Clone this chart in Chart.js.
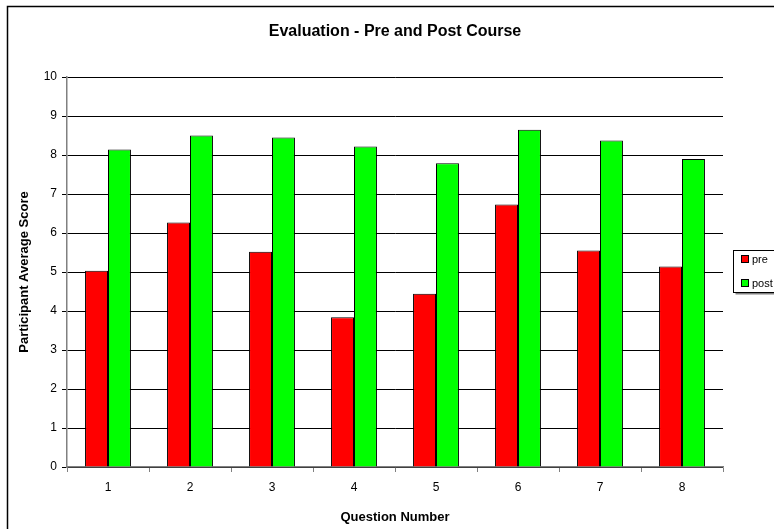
<!DOCTYPE html>
<html>
<head>
<meta charset="utf-8">
<script src="https://cdn.jsdelivr.net/npm/chart.js@4.4.0/dist/chart.umd.min.js"></script>
<style>
  html, body { margin: 0; padding: 0; background: #fff; overflow: hidden; }
  canvas { display: block; }
</style>
</head>
<body>
<canvas id="eval-chart" width="774" height="529"></canvas>
<script>
const chartTitle = 'Evaluation - Pre and Post Course';
const questions = ['1', '2', '3', '4', '5', '6', '7', '8'];
const preScores = [5.03, 6.27, 5.52, 3.84, 4.44, 6.73, 5.55, 5.14];
const postScores = [8.14, 8.50, 8.45, 8.22, 7.79, 8.65, 8.37, 7.90];
const seriesNames = ['pre', 'post'];

const font = 'Arial, "Liberation Sans", sans-serif';

// outer frame, title over the plot area, legend box - Excel style
const framePlugin = {
    id: 'frame',
    afterDraw(chart) {
        const ctx = chart.ctx;
        const area = chart.chartArea;
        ctx.save();
        ctx.strokeStyle = '#000';
        ctx.lineWidth = 1.5;
        ctx.strokeRect(7.5, 6.5, chart.width + 20, chart.height + 20);

        ctx.fillStyle = '#000';
        ctx.font = 'bold 16px ' + font;
        ctx.textAlign = 'center';
        ctx.textBaseline = 'middle';
        ctx.fillText(chartTitle, (area.left + area.right) / 2, 32);

        // legend
        const lx = 733.5, ly = 250.5, lw = 60, lh = 42;
        ctx.fillStyle = '#808080';
        ctx.fillRect(lx + 2, ly + 2, lw, lh);
        ctx.fillStyle = '#fff';
        ctx.fillRect(lx, ly, lw, lh);
        ctx.lineWidth = 1;
        ctx.strokeStyle = '#000';
        ctx.strokeRect(lx, ly, lw, lh);

        ctx.font = '11px ' + font;
        ctx.textAlign = 'left';
        chart.data.datasets.forEach((ds, i) => {
            const y = 259 + i * 24;
            ctx.fillStyle = ds.backgroundColor;
            ctx.fillRect(741.5, y - 3.5, 7, 7);
            ctx.strokeRect(741.5, y - 3.5, 7, 7);
            ctx.fillStyle = '#000';
            ctx.fillText(ds.label, 752, y + 0.5);
        });
        ctx.restore();
    }
};

const ctx = document.getElementById('eval-chart').getContext('2d');

new Chart(ctx, {
    type: 'bar',
    data: {
        labels: questions,
        datasets: [{
            label: seriesNames[0],
            data: preScores,
            backgroundColor: '#ff0000',
            borderColor: '#000',
            borderWidth: 1
        }, {
            label: seriesNames[1],
            data: postScores,
            backgroundColor: '#00ff00',
            borderColor: '#000',
            borderWidth: 1
        }]
    },
    options: {
        responsive: false,
        animation: false,
        categoryPercentage: 0.56,
        barPercentage: 1,
        layout: {
            padding: { left: 0, right: 51, top: 77, bottom: 0 }
        },
        scales: {
            x: {
                grid: {
                    drawOnChartArea: false,
                    color: '#808080',
                    tickLength: 5
                },
                border: { color: '#808080', width: 1.5 },
                ticks: {
                    color: '#000',
                    font: { family: font, size: 12 },
                    padding: 8
                },
                title: {
                    display: true,
                    text: 'Question Number',
                    color: '#000',
                    font: { family: font, size: 13, weight: 'bold' },
                    padding: { top: 0, bottom: 4 }
                },
                afterFit: scale => { scale.height = 62; }
            },
            y: {
                min: 0,
                max: 10,
                ticks: {
                    stepSize: 1,
                    color: '#000',
                    font: { family: font, size: 12 },
                    padding: 5
                },
                grid: {
                    color: '#000',
                    lineWidth: 1,
                    tickLength: 5
                },
                border: { color: '#808080', width: 1.5 },
                title: {
                    display: true,
                    text: 'Participant Average Score',
                    color: '#000',
                    font: { family: font, size: 13, weight: 'bold' },
                    padding: { top: 17, bottom: 17 }
                },
                afterFit: scale => { scale.width = 67; }
            }
        },
        plugins: {
            legend: { display: false },
            tooltip: { enabled: false },
            title: { display: false }
        }
    },
    plugins: [framePlugin]
});
</script>
</body>
</html>
